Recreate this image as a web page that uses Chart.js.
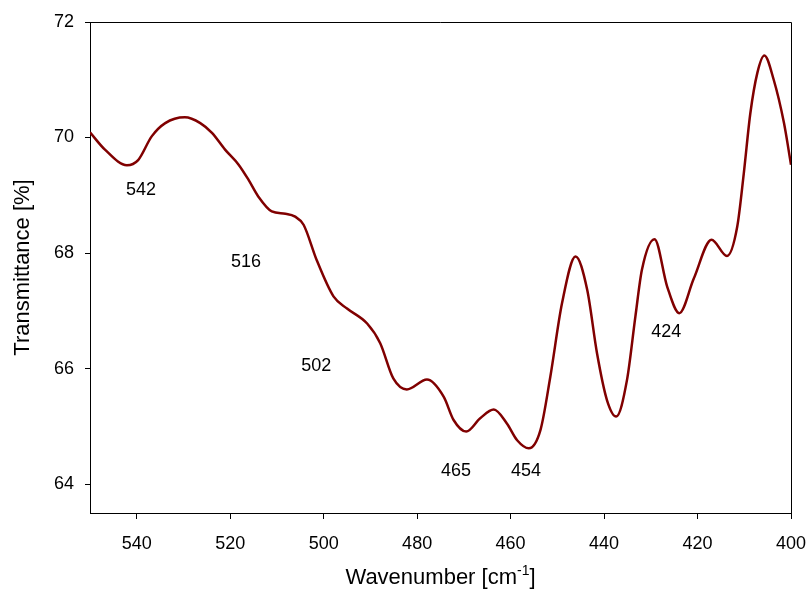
<!DOCTYPE html>
<html lang="en">
<head>
    <meta charset="UTF-8">
    <title>Transmittance spectrum</title>
    <script src="https://cdn.jsdelivr.net/npm/chart.js@4.4.1/dist/chart.umd.min.js"></script>
    <style>
        body {
            margin: 0;
            background: #fff;
        }
        canvas {
            display: block;
        }
    </style>
</head>
<body>
    <canvas id="myChart" width="808" height="604"></canvas>

    <script>
        // spectrum
        const wavenumber = [550, 546.8, 542.1, 539.7, 536.8, 533.9, 529.7, 526.4, 523.9, 521.1,
            518.2, 516.1, 514.0, 511.1, 508.2, 506.1, 504.3, 501.5, 497.9, 495.0,
            490.7, 487.9, 485.1, 482.2, 477.9, 474.3, 472.2, 469.5, 466.5, 463.6,
            460.8, 458.6, 456.1, 453.6, 451.5, 449.0, 446.1, 443.6, 441.5, 439.4,
            437.4, 435.1, 433.3, 431.9, 429.2, 426.5, 423.9, 420.8, 417.0, 413.7,
            411.5, 410.1, 408.7, 407.2, 405.7, 403.7, 401.5, 400];
        const transmittance = [70.09, 69.79, 69.52, 69.61, 70.02, 70.25, 70.35, 70.25, 70.08, 69.79,
            69.53, 69.27, 68.98, 68.72, 68.68, 68.63, 68.49, 67.88, 67.25, 67.04,
            66.78, 66.44, 65.83, 65.64, 65.81, 65.51, 65.11, 64.91, 65.14, 65.29,
            65.05, 64.76, 64.62, 64.94, 65.86, 67.13, 67.94, 67.36, 66.26, 65.46,
            65.17, 65.80, 66.90, 67.71, 68.24, 67.42, 66.96, 67.56, 68.23, 67.95,
            68.46, 69.38, 70.42, 71.12, 71.42, 71.00, 70.25, 69.53];

        // band labels, placed in data units
        const peakText = ['542', '516', '502', '465', '454', '424'];
        const peakX = [539.1, 516.6, 501.6, 471.7, 456.7, 426.7];
        const peakY = [69.09, 67.85, 66.04, 64.22, 64.22, 66.64];

        const xTicks = [540, 520, 500, 480, 460, 440, 420, 400];
        const yTicks = [64, 66, 68, 70, 72];

        const fontFamily = "Arial, 'Liberation Sans', sans-serif";

        const extras = {
            id: 'extras',
            afterDraw(chart) {
                const ctx = chart.ctx;
                const a = chart.chartArea;
                const x = chart.scales.x;
                const y = chart.scales.y;
                ctx.save();

                // top and right frame
                ctx.strokeStyle = '#000';
                ctx.lineWidth = 1;
                ctx.beginPath();
                ctx.moveTo(a.left, a.top + 0.5);
                ctx.lineTo(a.right + 0.5, a.top + 0.5);
                ctx.lineTo(a.right + 0.5, a.bottom);
                ctx.stroke();

                ctx.fillStyle = '#000';
                ctx.font = '18px ' + fontFamily;
                ctx.textAlign = 'center';
                ctx.textBaseline = 'middle';
                for (let i = 0; i < peakText.length; i++) {
                    ctx.fillText(peakText[i], x.getPixelForValue(peakX[i]), y.getPixelForValue(peakY[i]));
                }

                // y title
                ctx.font = '22px ' + fontFamily;
                ctx.save();
                ctx.translate(23, (a.top + a.bottom) / 2);
                ctx.rotate(-Math.PI / 2);
                ctx.fillText('Transmittance [%]', 0, 0);
                ctx.restore();

                // x title with superscript
                const main = 'Wavenumber [cm';
                const sup = '-1';
                const tail = ']';
                ctx.font = '22px ' + fontFamily;
                const wMain = ctx.measureText(main).width;
                const wTail = ctx.measureText(tail).width;
                ctx.font = '14px ' + fontFamily;
                const wSup = ctx.measureText(sup).width;
                let left = (a.left + a.right) / 2 - (wMain + wSup + wTail) / 2;
                const base = 584;
                ctx.textAlign = 'left';
                ctx.textBaseline = 'alphabetic';
                ctx.font = '22px ' + fontFamily;
                ctx.fillText(main, left, base);
                ctx.font = '14px ' + fontFamily;
                ctx.fillText(sup, left + wMain, base - 9);
                ctx.font = '22px ' + fontFamily;
                ctx.fillText(tail, left + wMain + wSup, base);

                ctx.restore();
            }
        };

        const ctx = document.getElementById('myChart').getContext('2d');
        const myChart = new Chart(ctx, {
            type: 'line',
            data: {
                datasets: [{
                    data: wavenumber.map((w, i) => ({x: w, y: transmittance[i]})),
                    borderColor: '#800000',
                    borderWidth: 2.5,
                    pointRadius: 0,
                    fill: false,
                    cubicInterpolationMode: 'monotone'
                }]
            },
            options: {
                responsive: false,
                animation: false,
                layout: {
                    padding: {top: 22, right: 17, left: 0, bottom: 0}
                },
                plugins: {
                    legend: {display: false},
                    tooltip: {enabled: false}
                },
                scales: {
                    x: {
                        type: 'linear',
                        reverse: true,
                        min: 400,
                        max: 550,
                        afterBuildTicks: s => { s.ticks = xTicks.map(v => ({value: v})); },
                        afterFit: s => {
                            s.height = 91;
                            s.paddingLeft = 0;
                            s.paddingRight = 0;
                        },
                        grid: {display: true, drawOnChartArea: false, drawTicks: true, tickLength: 6, color: '#000'},
                        border: {display: true, color: '#000', width: 1},
                        ticks: {
                            color: '#000',
                            padding: 14,
                            maxRotation: 0,
                            font: {family: fontFamily, size: 18}
                        }
                    },
                    y: {
                        min: 63.5,
                        max: 72,
                        afterBuildTicks: s => { s.ticks = yTicks.map(v => ({value: v})); },
                        afterFit: s => {
                            s.width = 90;
                            s.paddingTop = 0;
                            s.paddingBottom = 0;
                        },
                        grid: {display: true, drawOnChartArea: false, drawTicks: true, tickLength: 5, color: '#000'},
                        border: {display: true, color: '#000', width: 1},
                        ticks: {
                            color: '#000',
                            padding: 11,
                            font: {family: fontFamily, size: 18}
                        }
                    }
                }
            },
            plugins: [extras]
        });
    </script>
</body>
</html>
